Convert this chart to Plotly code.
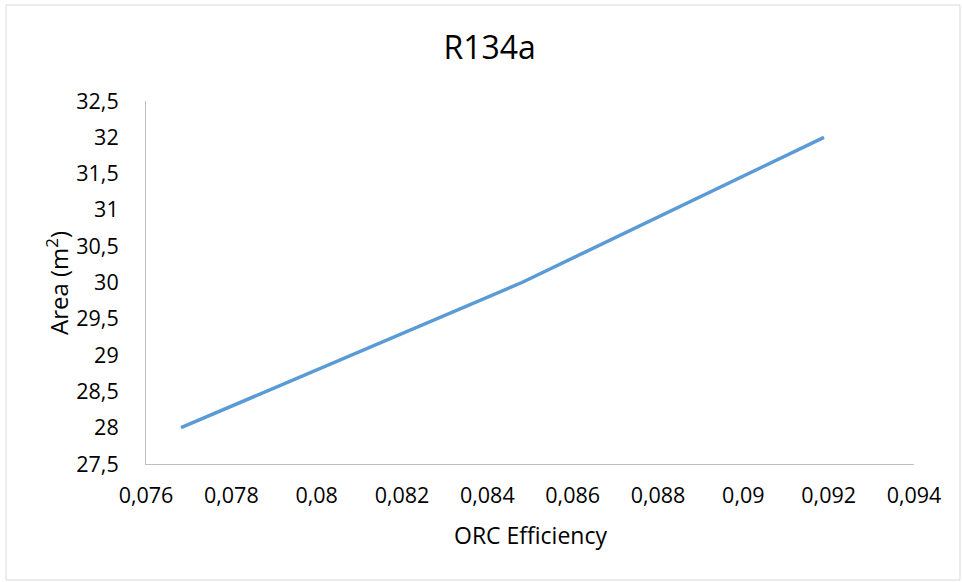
import plotly.graph_objects as go

# Data
efficiency = [0.07682, 0.08481, 0.09189]
area = [28.0, 30.0, 32.0]

x_tick_vals = [0.076, 0.078, 0.080, 0.082, 0.084, 0.086, 0.088, 0.090, 0.092, 0.094]
x_tick_text = ["0,076", "0,078", "0,08", "0,082", "0,084", "0,086", "0,088", "0,09", "0,092", "0,094"]
y_tick_vals = [27.5, 28, 28.5, 29, 29.5, 30, 30.5, 31, 31.5, 32, 32.5]
y_tick_text = ["27,5", "28", "28,5", "29", "29,5", "30", "30,5", "31", "31,5", "32", "32,5"]

FONT = "Open Sans"
W, H = 962, 582
ML, MR, MT, MB = 146, 48, 101, 118
PW, PH = W - ML - MR, H - MT - MB

def px_x(px):
    return (px - ML) / PW

def px_y(py):
    return (H - MB - py) / PH

fig = go.Figure()
fig.add_trace(go.Scatter(
    x=efficiency, y=area, mode="lines",
    line=dict(color="#5b9bd5", width=3.5),
    showlegend=False, hoverinfo="skip",
))

fig.update_layout(
    width=W, height=H,
    margin=dict(l=ML, r=MR, t=MT, b=MB),
    paper_bgcolor="white", plot_bgcolor="white",
    font=dict(family=FONT, color="#000000", size=21.5),
    title=dict(text="R134a", x=0.509, xref="container", xanchor="center",
               y=1 - 48 / H, yref="container", yanchor="middle",
               font=dict(family=FONT, size=32, color="#000000")),
    showlegend=False,
)

fig.update_xaxes(
    range=[0.076, 0.094], tickvals=x_tick_vals, ticktext=x_tick_text,
    showgrid=False, zeroline=False, showline=True, linecolor="#bfbfbf", linewidth=1,
    ticks="", ticklabelstandoff=12,
    tickfont=dict(family=FONT, size=21.5, color="#000000"),
)
fig.update_yaxes(
    range=[27.5, 32.5], tickvals=y_tick_vals, ticktext=y_tick_text,
    showgrid=False, zeroline=False, showline=True, linecolor="#bfbfbf", linewidth=1,
    ticks="", ticklabelstandoff=22,
    tickfont=dict(family=FONT, size=21.5, color="#000000"),
)

fig.add_annotation(text="Area (m<sup>2</sup>)", xref="paper", yref="paper",
                   x=px_x(57), y=px_y(283), textangle=-90, showarrow=False,
                   xanchor="center", yanchor="middle",
                   font=dict(family=FONT, size=24, color="#000000"))
fig.add_annotation(text="ORC Efficiency", xref="paper", yref="paper",
                   x=px_x(530), y=px_y(535), showarrow=False,
                   xanchor="center", yanchor="middle",
                   font=dict(family=FONT, size=23, color="#000000"))

# Outer chart border
fig.add_shape(type="rect", xref="paper", yref="paper",
              x0=px_x(6), x1=px_x(960), y0=px_y(580), y1=px_y(5),
              line=dict(color="#d9d9d9", width=1), fillcolor="rgba(0,0,0,0)",
              layer="below")

fig.write_html("out.html", config={"displayModeBar": False},
               post_script="document.body.style.margin='0';document.body.style.padding='0';")
